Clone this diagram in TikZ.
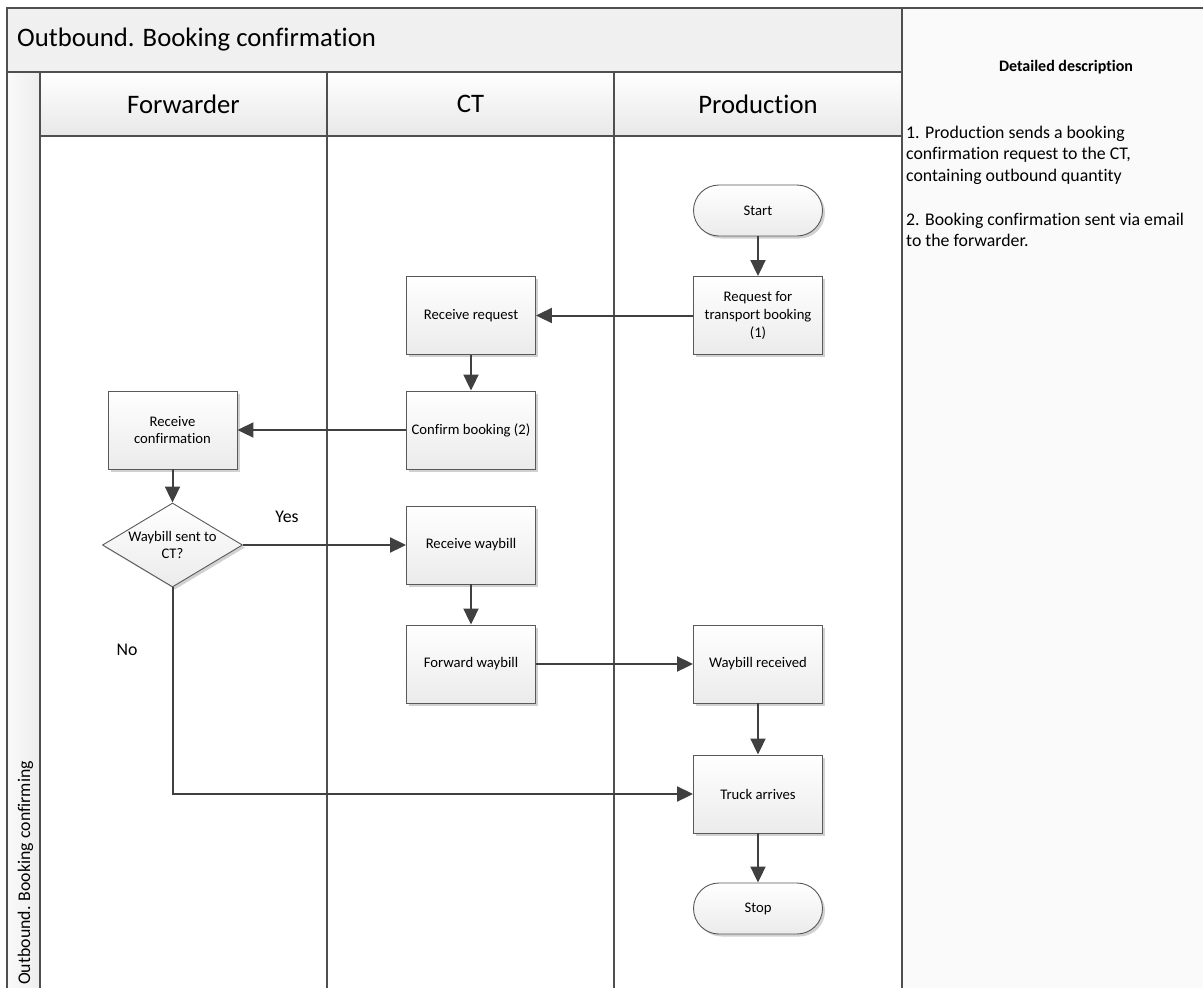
\documentclass[tikz,border=0pt]{standalone}
\usepackage{fontspec}
\setmainfont{Carlito}[RawFeature={-liga;-clig;-calt;-dlig}]
\usetikzlibrary{arrows.meta,shapes.geometric,shadows}

\definecolor{edgegray}{HTML}{404040}
\definecolor{framegray}{HTML}{4F4F4F}
\definecolor{boxline}{HTML}{595959}
\definecolor{panelgray}{HTML}{FAFAFA}
\definecolor{bargray}{HTML}{F0F0F0}
\definecolor{headlow}{HTML}{E8E8E8}
\definecolor{boxlow}{HTML}{EBEBEB}

\newcommand{\boxtxt}{\fontsize{14.67}{17.9}\selectfont}
\newcommand{\headtxt}{\fontsize{26.7}{32}\selectfont}
\newcommand{\desctxt}{\fontsize{17.8}{21.8}\selectfont}
\newcommand{\captxt}{\fontsize{16}{19.5}\selectfont\bfseries}

\begin{document}
\begin{tikzpicture}[x=1pt,y=-1pt,
  frame/.style={draw=framegray, line width=2pt},
  stepbox/.style={draw=boxline, line width=0.9pt, top color=white, bottom color=boxlow,
    minimum width=129pt, minimum height=78pt, inner sep=2pt, align=center, font=\boxtxt,
    drop shadow={shadow xshift=2.5pt, shadow yshift=-2.5pt, opacity=0.18, fill=black}},
  terminal/.style={stepbox, rounded corners=25.5pt, minimum height=51pt},
  decision/.style={stepbox, diamond, aspect=1.67, inner sep=-2pt, minimum width=140pt, minimum height=84pt},
  flow/.style={draw=edgegray, line width=2pt, -{Triangle[length=16pt,width=15pt]}},
  lanehead/.style={font=\headtxt},
  answer/.style={font=\desctxt}
]
\useasboundingbox (0,0) rectangle (1203,988);

% description panel
\fill[panelgray] (902,8) rectangle (1203,988);
% title bar, pool strip and lane headers
\fill[bargray] (7,8) rectangle (902,72);
\shade[left color=gray!4, right color=gray!14] (7,72) rectangle (40,988);
\shade[top color=white, bottom color=headlow] (40,72) rectangle (902,136);

% pool and lane outlines
\draw[frame] (7,988) -- (7,8) -- (1203,8);
\draw[frame] (7,72) -- (902,72);
\draw[frame] (40,136) -- (902,136);
\draw[frame] (40,72) -- (40,988);
\draw[frame] (327,72) -- (327,988);
\draw[frame] (614,72) -- (614,988);
\draw[frame] (902,8) -- (902,988);

% titles
\node[font=\headtxt, anchor=west, inner sep=0] (title) at (17,40) {Outbound. Booking confirmation};
\node[lanehead] (hfwd) at (183.5,104) {Forwarder};
\node[lanehead] (hct) at (470.5,104) {CT};
\node[lanehead] (hprod) at (758,104) {Production};
\node[font=\desctxt, rotate=90, anchor=west, inner sep=0] (pool) at (25.5,985) {Outbound. Booking confirming};

% detailed description
\node[font=\captxt] (caption) at (1066,67) {Detailed description};
\node[font=\desctxt, anchor=north west, inner sep=0, align=left] (note1) at (906,125.5)
  {1. Production sends a booking\\confirmation request to the CT,\\containing outbound quantity};
\node[font=\desctxt, anchor=north west, inner sep=0, align=left] (note2) at (906,212.5)
  {2. Booking confirmation sent via email\\to the forwarder.};

% flow steps
\node[terminal] (start) at (758,210.5) {Start};
\node[stepbox] (request) at (758,315.5) {Request for\\transport booking\\(1)};
\node[stepbox] (recvreq) at (471,315.5) {Receive request};
\node[stepbox] (confirm) at (471,430) {Confirm booking (2)};
\node[stepbox] (recvconf) at (172.5,430) {Receive\\confirmation};
\node[decision] (sent) at (172.5,545) {Waybill sent to\\CT?};
\node[stepbox] (recvwb) at (471,545) {Receive waybill};
\node[stepbox] (fwdwb) at (471,664) {Forward waybill};
\node[stepbox] (wbrec) at (758,664) {Waybill received};
\node[stepbox] (truck) at (758,794) {Truck arrives};
\node[terminal] (stop) at (758,908.5) {Stop};

% answers of the decision
\node[answer] (yes) at (287,517) {Yes};
\node[answer] (no) at (127,650) {No};

% connectors
\draw[flow] (start) -- (request);
\draw[flow] (request) -- (recvreq);
\draw[flow] (recvreq) -- (confirm);
\draw[flow] (confirm) -- (recvconf);
\draw[flow] (recvconf) -- (sent);
\draw[flow] (sent.east) -- (recvwb.west);
\draw[flow] (recvwb) -- (fwdwb);
\draw[flow] (fwdwb) -- (wbrec);
\draw[flow] (wbrec) -- (truck);
\draw[flow] (sent.south) |- (truck.west);
\draw[flow] (truck) -- (stop);
\end{tikzpicture}
\end{document}
